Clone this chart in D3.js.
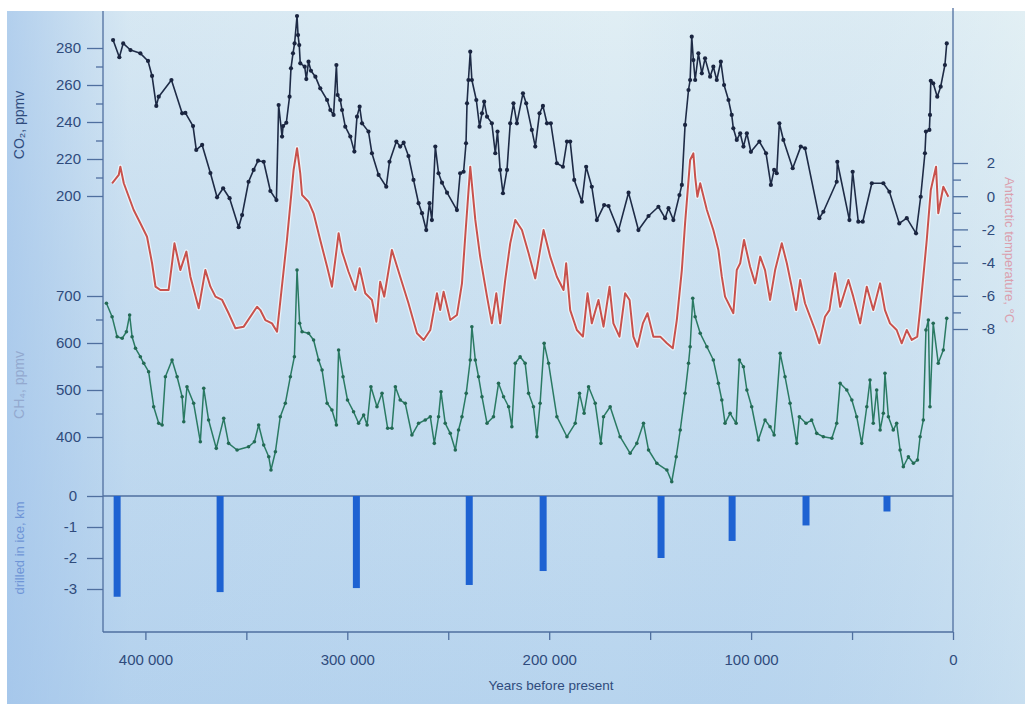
<!DOCTYPE html>
<html><head><meta charset="utf-8">
<script src="https://cdn.jsdelivr.net/npm/d3@7"></script>
<style>
html,body{margin:0;padding:0;background:#fff;}
svg{display:block;}
text{font-family:"Liberation Sans",Arial,sans-serif;}
</style></head><body>
<svg id="chart" width="1025" height="704"></svg>
<script>
// ---- data: [age in years before present, value] ----
const co2Data = [[416000,284.3],[412900,275.0],[411000,282.5],[407400,278.9],[402500,277.1],[398700,273.0],[396700,264.9],[394600,248.7],[393400,253.7],[387100,262.7],[381800,244.7],[380200,244.9],[376400,237.8],[374800,224.9],[371900,227.6],[367800,212.4],[364500,199.3],[361500,204.2],[358300,198.8],[353800,183.1],[352100,189.7],[348900,207.7],[346400,214.1],[344200,219.1],[341400,218.5],[338100,202.7],[335100,197.8],[334000,249.2],[332300,232.1],[331800,237.8],[330200,239.6],[328600,253.7],[327900,269.0],[326900,277.1],[326100,282.5],[324900,297.3],[324400,287.0],[323800,281.6],[323300,271.7],[321100,269.9],[320300,263.2],[319200,272.6],[318000,267.7],[315800,264.5],[313400,258.2],[310000,251.9],[308400,246.5],[306800,243.8],[305400,270.8],[304800,254.6],[303500,251.9],[302600,246.5],[301000,237.5],[298500,232.1],[296500,224.0],[295200,242.9],[293900,248.3],[292700,239.3],[289500,234.8],[287800,223.1],[284500,211.4],[280700,205.0],[279100,218.5],[275700,229.4],[273800,226.7],[272100,228.8],[269700,221.6],[267200,208.7],[264700,196.1],[263000,190.7],[260900,181.6],[259300,196.1],[258100,187.0],[256400,226.7],[254800,212.3],[253100,207.2],[250600,201.8],[245700,192.4],[244100,212.3],[242400,213.1],[241200,228.5],[240700,250.1],[240000,262.7],[239100,278.0],[238300,262.7],[236100,251.9],[234500,237.5],[233300,244.7],[232200,251.0],[230800,242.9],[228400,239.3],[226700,223.1],[225600,234.8],[224300,214.1],[222900,201.5],[220900,214.1],[219300,239.3],[217700,250.1],[216000,239.3],[213000,255.5],[211400,250.1],[208600,235.7],[206900,226.7],[204800,244.7],[203100,248.7],[201100,239.3],[199200,239.3],[196200,217.7],[193200,215.8],[191200,229.4],[189600,229.4],[187600,208.7],[183800,196.9],[181700,215.8],[178900,205.0],[176400,187.0],[172800,195.1],[170600,194.6],[165700,181.3],[160700,201.8],[155800,181.6],[150800,189.2],[145900,194.2],[142600,188.0],[140900,193.4],[138500,187.0],[135500,200.5],[134300,206.0],[132700,238.4],[131000,257.3],[130200,262.7],[129400,286.1],[128600,273.5],[127700,262.7],[126100,277.1],[124400,266.3],[122800,274.4],[120300,264.5],[118700,269.9],[117000,262.7],[115000,272.6],[113400,260.0],[111200,251.9],[109600,243.8],[108800,236.6],[107100,230.3],[105400,233.9],[103800,226.7],[102100,233.9],[100100,223.9],[95900,229.4],[92600,223.1],[90200,206.0],[88600,214.1],[87300,212.3],[86000,239.3],[84000,230.3],[79400,215.0],[75400,226.7],[73300,225.8],[66200,188.0],[64200,191.5],[57600,207.7],[57300,218.5],[51300,187.0],[49700,213.1],[46900,186.1],[44700,186.1],[40200,206.9],[34500,206.9],[31500,202.3],[26600,185.2],[22900,188.0],[18300,179.8],[16000,199.6],[13900,223.1],[13400,234.8],[11700,235.7],[11400,243.8],[11000,262.3],[9800,260.9],[7800,253.7],[6100,259.1],[4000,270.8],[3100,282.5]];

const tempData = [[416500,0.78],[413200,1.28],[412400,1.78],[410700,0.78],[405800,-0.83],[402500,-1.63],[399200,-2.44],[396700,-4.04],[395000,-5.45],[392600,-5.65],[388500,-5.65],[386800,-4.04],[385600,-2.84],[382700,-4.45],[379700,-3.34],[377700,-4.85],[373600,-6.75],[370300,-4.45],[367800,-5.45],[365300,-6.05],[362000,-6.25],[358800,-7.05],[355400,-7.96],[351300,-7.86],[344700,-6.66],[343100,-6.86],[340600,-7.46],[337300,-7.66],[334800,-8.16],[329900,-2.64],[326600,1.58],[324900,2.89],[323300,1.38],[322400,0.07],[319200,-0.33],[316700,-1.03],[313400,-2.64],[310000,-4.25],[307600,-5.45],[304300,-2.23],[302600,-3.34],[299400,-4.55],[296000,-5.65],[293900,-4.34],[291100,-5.85],[287800,-6.25],[285600,-7.56],[283700,-5.15],[281700,-6.05],[277900,-3.24],[273800,-4.85],[269700,-6.45],[265500,-8.26],[262200,-8.66],[258900,-8.06],[255600,-5.85],[254000,-6.86],[252300,-5.75],[249000,-7.46],[245700,-7.16],[243200,-5.25],[241600,-2.44],[239100,1.78],[236600,-1.43],[234200,-3.64],[230800,-6.05],[228400,-7.66],[226200,-5.85],[224300,-7.66],[221800,-5.05],[219300,-2.84],[216800,-1.43],[213500,-2.04],[210200,-3.44],[206900,-4.95],[202800,-2.04],[199500,-3.64],[196200,-4.85],[192900,-5.65],[191600,-4.04],[189600,-6.86],[186300,-8.06],[183300,-8.46],[181000,-5.85],[178900,-7.66],[175600,-6.25],[173100,-7.86],[170100,-5.45],[168200,-7.66],[165200,-8.46],[162400,-5.85],[160200,-6.25],[158300,-8.46],[156300,-9.07],[153600,-7.66],[151300,-7.05],[148400,-8.46],[145000,-8.46],[141700,-8.86],[138800,-9.16],[136800,-7.46],[134300,-4.45],[132700,-1.63],[130200,2.18],[128600,2.58],[127700,1.17],[126600,-0.03],[125200,0.78],[121900,-0.83],[118700,-2.04],[116200,-3.24],[114500,-4.85],[112900,-6.05],[110400,-6.66],[108800,-7.05],[107100,-4.45],[105400,-4.04],[103500,-2.64],[100500,-4.25],[98000,-5.25],[95500,-3.64],[93100,-4.45],[90600,-6.25],[88100,-4.45],[84800,-2.84],[82300,-4.04],[79900,-5.45],[77700,-6.86],[75700,-5.05],[73300,-6.45],[70800,-7.26],[68300,-8.06],[66200,-8.86],[63400,-7.26],[61200,-6.86],[58400,-4.64],[55900,-6.66],[51800,-5.05],[49400,-6.05],[46000,-7.66],[42700,-5.45],[39500,-6.86],[36100,-5.25],[33700,-6.86],[31200,-7.66],[27900,-8.06],[25400,-8.86],[22900,-8.06],[20400,-8.66],[17700,-8.46],[16300,-6.86],[14400,-4.45],[13000,-2.64],[11000,0.37],[8400,1.78],[7300,-1.03],[4800,0.57],[2300,-0.03]];

const ch4Data = [[419300,684.5],[416500,656.0],[414000,613.4],[411500,610.0],[409400,624.0],[407800,659.6],[406600,613.4],[404900,588.7],[402500,570.8],[400800,556.8],[398400,538.9],[395900,464.4],[393400,429.1],[391700,425.5],[390100,528.3],[386800,563.8],[384300,528.3],[381800,485.7],[381000,432.5],[379400,507.0],[376100,471.7],[372800,390.0],[371100,503.6],[368700,436.1],[364900,375.9],[361200,439.7],[358800,386.5],[354600,372.3],[348900,379.3],[346000,390.0],[343900,425.5],[341400,382.9],[338900,358.0],[337800,329.7],[335600,368.7],[333200,443.2],[330700,471.7],[328200,528.3],[326200,570.8],[324900,755.3],[323600,641.9],[322400,624.0],[319200,620.6],[316700,606.4],[314200,563.8],[312500,542.5],[310000,471.7],[307600,457.4],[305400,425.5],[304300,585.1],[302100,528.3],[299900,478.7],[296900,453.8],[294400,429.1],[291900,446.8],[290200,425.5],[288300,507.0],[285300,464.4],[282800,492.9],[280000,418.5],[277900,418.5],[276200,507.0],[273800,478.7],[271300,471.7],[268000,404.2],[264700,429.1],[261400,436.1],[258900,443.2],[256900,386.5],[254800,443.2],[253600,496.4],[251500,429.1],[249000,407.8],[246500,372.3],[244900,414.8],[243200,443.2],[241100,492.9],[239100,563.8],[238300,634.7],[236600,563.8],[235000,528.3],[233300,485.7],[230800,429.1],[227600,443.2],[225100,514.2],[222600,485.7],[220100,464.4],[218500,421.9],[216800,556.8],[214400,570.8],[211900,556.8],[210200,492.9],[207800,464.4],[206100,400.6],[204500,471.7],[202500,599.3],[200300,556.8],[196200,443.2],[191200,400.6],[187100,429.1],[185000,492.9],[182700,450.4],[180500,507.0],[177200,471.7],[174400,386.5],[173100,443.2],[169800,464.4],[164900,400.6],[159900,365.3],[156600,386.5],[153300,429.1],[150800,372.3],[146700,344.0],[141700,329.7],[139300,304.8],[137100,358.0],[135100,414.8],[132700,492.9],[131000,556.8],[130200,592.1],[128900,695.1],[127700,656.0],[125200,620.6],[121900,592.1],[118700,563.8],[116200,514.2],[114500,478.7],[112900,429.1],[110400,450.4],[107400,429.1],[105800,563.8],[103800,549.6],[102100,500.0],[99700,464.4],[96400,393.6],[93100,436.1],[90600,421.9],[88600,404.2],[85600,578.1],[83200,528.3],[80700,471.7],[77400,386.5],[76100,443.2],[72800,429.1],[70000,436.1],[67500,407.8],[64200,400.6],[60000,397.2],[57600,429.1],[55900,514.2],[52600,500.0],[50100,478.7],[47700,443.2],[45200,386.5],[42700,464.4],[41100,521.2],[39500,429.1],[37800,500.0],[36100,414.8],[34500,450.4],[33700,535.5],[32000,443.2],[29600,414.8],[27900,429.1],[26200,372.3],[24600,336.7],[22100,358.0],[19600,344.0],[17600,351.0],[16300,400.6],[14700,436.1],[13400,627.6],[12200,648.9],[11400,464.4],[9800,641.9],[7300,556.8],[4800,585.1],[3100,652.5]];

const depthAges = [414000,363000,295500,239600,203000,144600,109400,72800,32700];
const depthValues = [-3.25,-3.1,-2.97,-2.87,-2.42,-2.0,-1.45,-0.95,-0.5];

const co2Ticks = [200,220,240,260,280];
const co2Minor = [210,230,250,270];
const ch4Ticks = [400,500,600,700];
const ch4Minor = [450,550,650];
const tempTicks = [2,0,-2,-4,-6,-8];
const tempMinor = [1,-1,-3,-5,-7];
const depthTicks = [0,-1,-2,-3];
const yearTicks = [400000,300000,200000,100000,0];
const yearMinor = [350000,250000,150000,50000];

// ---- drawing ----
const svg = d3.select('#chart');
const defs = svg.append('defs');
const g1 = defs.append('linearGradient').attr('id','bgV').attr('x1',0).attr('y1',0).attr('x2',0).attr('y2',1);
g1.append('stop').attr('offset','0%').attr('stop-color','#e0eef4');
g1.append('stop').attr('offset','35%').attr('stop-color','#cfe3f1');
g1.append('stop').attr('offset','100%').attr('stop-color','#b7d4ee');
const g2 = defs.append('linearGradient').attr('id','bgH').attr('x1',0).attr('y1',0).attr('x2',1).attr('y2',0);
g2.append('stop').attr('offset','0%').attr('stop-color','#9fc2ea').attr('stop-opacity',0.7);
g2.append('stop').attr('offset','12%').attr('stop-color','#9fc2ea').attr('stop-opacity',0.15);
g2.append('stop').attr('offset','60%').attr('stop-color','#9fc2ea').attr('stop-opacity',0);
g2.append('stop').attr('offset','100%').attr('stop-color','#e6f2f4').attr('stop-opacity',0.35);

svg.append('rect').attr('x',0).attr('y',0).attr('width',1025).attr('height',704).attr('fill','#ffffff');
svg.append('rect').attr('x',7).attr('y',11).attr('width',1018).attr('height',693).attr('fill','url(#bgV)');
svg.append('rect').attr('x',7).attr('y',11).attr('width',1018).attr('height',693).attr('fill','url(#bgH)');

const x = d3.scaleLinear().domain([421000,0]).range([103,953]);
const yCO2 = d3.scaleLinear().domain([200,280]).range([196,48]);
const yCH4 = d3.scaleLinear().domain([400,700]).range([437,296]);
const yT = d3.scaleLinear().domain([-8,2]).range([329,163]);
const yD = d3.scaleLinear().domain([0,-3]).range([496,589]);

const axisColor = '#4f6f9f';
const labelColor = '#2f4b7c';

function styleAxis(g){
  g.select('.domain').remove();
  g.selectAll('.tick line').attr('stroke',axisColor).attr('stroke-width',1.3);
  g.selectAll('.tick text').attr('fill',labelColor).attr('font-size',15);
}

// frame lines
svg.append('line').attr('x1',103).attr('x2',103).attr('y1',11).attr('y2',632).attr('stroke',axisColor).attr('stroke-width',1.3);
svg.append('line').attr('x1',953).attr('x2',953).attr('y1',8).attr('y2',632).attr('stroke',axisColor).attr('stroke-width',1.3);
svg.append('line').attr('x1',103).attr('x2',953).attr('y1',632).attr('y2',632).attr('stroke',axisColor).attr('stroke-width',1.3);
svg.append('line').attr('x1',103).attr('x2',953).attr('y1',yD(0)).attr('y2',yD(0)).attr('stroke',axisColor).attr('stroke-width',1.3);

// left axes
svg.append('g').attr('transform','translate(103,0)')
  .call(d3.axisLeft(yCO2).tickValues(co2Ticks).tickSize(16).tickPadding(6)).call(styleAxis);
svg.append('g').attr('transform','translate(103,0)')
  .call(d3.axisLeft(yCO2).tickValues(co2Minor).tickSize(7).tickFormat('')).call(styleAxis);
svg.append('g').attr('transform','translate(103,0)')
  .call(d3.axisLeft(yCH4).tickValues(ch4Ticks).tickSize(16).tickPadding(6)).call(styleAxis);
svg.append('g').attr('transform','translate(103,0)')
  .call(d3.axisLeft(yCH4).tickValues(ch4Minor).tickSize(7).tickFormat('')).call(styleAxis);
svg.append('g').attr('transform','translate(103,0)')
  .call(d3.axisLeft(yD).tickValues(depthTicks).tickSize(16).tickPadding(10).tickFormat(d=>String(d))).call(styleAxis);

// right axis (temperature)
const rAx = svg.append('g').attr('transform','translate(953,0)')
  .call(d3.axisRight(yT).tickValues(tempTicks).tickSize(15).tickPadding(10).tickFormat(d=>String(d))).call(styleAxis);
rAx.selectAll('.tick text').attr('text-anchor','end').attr('x',42);
svg.append('g').attr('transform','translate(953,0)')
  .call(d3.axisRight(yT).tickValues(tempMinor).tickSize(8).tickFormat('')).call(styleAxis);

// bottom axis
const fmt = d => d3.format(',')(d).replace(/,/g,' ');
svg.append('g').attr('transform','translate(0,632)')
  .call(d3.axisBottom(x).tickValues(yearTicks).tickSize(8).tickPadding(14).tickFormat(fmt)).call(styleAxis);
svg.append('g').attr('transform','translate(0,632)')
  .call(d3.axisBottom(x).tickValues(yearMinor).tickSize(8).tickFormat('')).call(styleAxis);

// axis titles
svg.append('text').attr('transform','translate(24,125) rotate(-90)').attr('text-anchor','middle')
  .attr('font-size',14).attr('fill','#2f4b7c').text('CO₂, ppmv');
svg.append('text').attr('transform','translate(24,385) rotate(-90)').attr('text-anchor','middle')
  .attr('font-size',14).attr('fill','#93a9cf').text('CH₄, ppmv');
svg.append('text').attr('transform','translate(24,548) rotate(-90)').attr('text-anchor','middle')
  .attr('font-size',13).attr('fill','#6f95d6').text('drilled in ice, km');
svg.append('text').attr('transform','translate(1005,250) rotate(90)').attr('text-anchor','middle')
  .attr('font-size',13).attr('fill','#dba0ae').text('Antarctic temperature, °C');
svg.append('text').attr('x',551).attr('y',690).attr('text-anchor','middle')
  .attr('font-size',13.5).attr('fill','#2f4b7c').text('Years before present');

// depth bars
svg.append('g').selectAll('rect').data(depthAges.map((a,i)=>[a,depthValues[i]])).join('rect')
  .attr('x',d=>x(d[0])-3.5).attr('width',7)
  .attr('y',yD(0)).attr('height',d=>yD(d[1])-yD(0))
  .attr('fill','#1e62d2');

// temperature line with halo
const tLine = d3.line().x(d=>x(d[0])).y(d=>yT(d[1]));
svg.append('path').datum(tempData).attr('d',tLine).attr('fill','none')
  .attr('stroke','#ffffff').attr('stroke-opacity',0.6).attr('stroke-width',4.5).attr('stroke-linejoin','round');
svg.append('path').datum(tempData).attr('d',tLine).attr('fill','none')
  .attr('stroke','#c8514c').attr('stroke-width',2).attr('stroke-linejoin','round');

// CH4 line
const mLine = d3.line().x(d=>x(d[0])).y(d=>yCH4(d[1]));
svg.append('path').datum(ch4Data).attr('d',mLine).attr('fill','none')
  .attr('stroke','#2a7a63').attr('stroke-width',1.5).attr('stroke-linejoin','round');
svg.append('g').selectAll('circle').data(ch4Data).join('circle')
  .attr('cx',d=>x(d[0])).attr('cy',d=>yCH4(d[1])).attr('r',1.8).attr('fill','#236a55');

// CO2 line
const cLine = d3.line().x(d=>x(d[0])).y(d=>yCO2(d[1]));
svg.append('path').datum(co2Data).attr('d',cLine).attr('fill','none')
  .attr('stroke','#1e2b46').attr('stroke-width',1.6).attr('stroke-linejoin','round');
svg.append('g').selectAll('circle').data(co2Data).join('circle')
  .attr('cx',d=>x(d[0])).attr('cy',d=>yCO2(d[1])).attr('r',2.1).attr('fill','#1a2540');
</script>
</body></html>
